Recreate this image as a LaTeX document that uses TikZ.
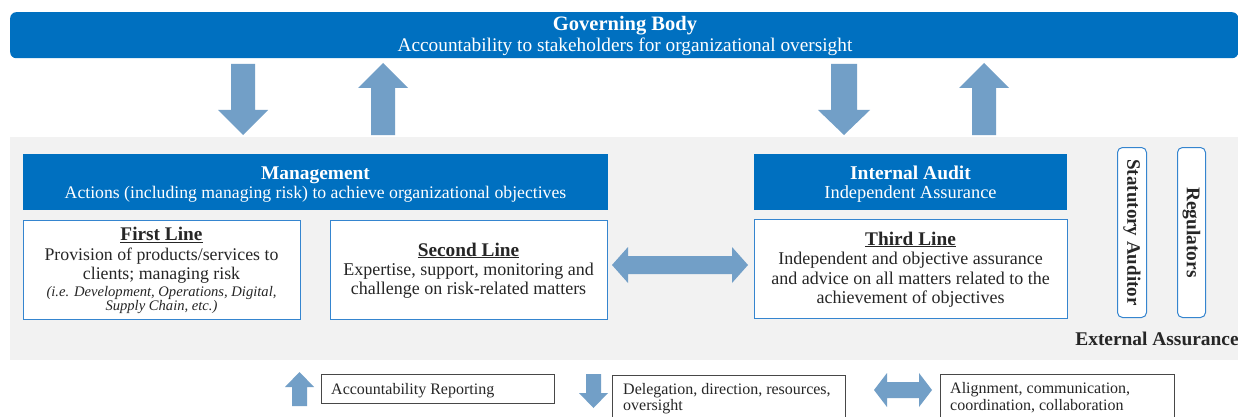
\documentclass[tikz,border=0pt]{standalone}
\usepackage{fontspec}
\setmainfont{Liberation Serif}
\definecolor{corp}{HTML}{0070C0}
\definecolor{flow}{HTML}{729FC7}
\definecolor{panel}{HTML}{F2F2F2}
\definecolor{edge}{HTML}{3585CF}
\definecolor{ink}{HTML}{262626}
\newcommand{\fs}[1]{\fontsize{#1}{#1}\selectfont}
\begin{document}
\begin{tikzpicture}[x=1pt,y=-1pt,
  bar/.style={fill=corp,inner sep=0pt,anchor=north west},
  linebox/.style={draw=edge,line width=1.3pt,fill=white,inner sep=0pt,anchor=north west},
  extbox/.style={draw=edge,line width=1pt,fill=white,rounded corners=5pt,inner sep=0pt,anchor=north west},
  keybox/.style={draw=ink!85,line width=0.9pt,fill=white,inner sep=0pt,anchor=north west},
  lbl/.style={inner sep=0pt,anchor=base,text=ink},
  barlbl/.style={inner sep=0pt,anchor=base,text=white},
  keylbl/.style={inner sep=0pt,anchor=base west,text=ink,font=\fs{16}},
  blockarrow/.style={fill=flow}]
\useasboundingbox (0,0) rectangle (1238,417);
\fill[white] (0,0) rectangle (1238,417);

% governing body banner
\node[bar,rounded corners=6pt,minimum width=1228,minimum height=46] (gov) at (10,12) {};
\node[barlbl,font=\bfseries\fs{20.5}] (govt) at (625,30.7) {Governing Body};
\node[barlbl,font=\fs{19.3}] (govs) at (625,51.5) {Accountability to stakeholders for organizational oversight};

% grey panel holding the organisation
\fill[panel] (10,137) rectangle (1238,360);

% vertical flows between the banner and the organisation
\fill[blockarrow] (231,64) -- (255,64) -- (255,110) -- (268,110) -- (243,135) -- (218,110) -- (231,110) -- cycle;
\fill[blockarrow] (371,135) -- (395,135) -- (395,88) -- (408,88) -- (383,63) -- (358,88) -- (371,88) -- cycle;
\fill[blockarrow] (831,64) -- (857,64) -- (857,110) -- (870,110) -- (844,135) -- (818,110) -- (831,110) -- cycle;
\fill[blockarrow] (972,135) -- (996,135) -- (996,88) -- (1009,88) -- (984,63) -- (959,88) -- (972,88) -- cycle;

% management and internal audit headers
\node[bar,minimum width=585,minimum height=56] (mgmt) at (23,154) {};
\node[barlbl,font=\bfseries\fs{19.4}] (mgmtt) at (315.5,179) {Management};
\node[barlbl,font=\fs{17.7}] (mgmts) at (315.5,198.5) {Actions (including managing risk) to achieve organizational objectives};
\node[bar,minimum width=313,minimum height=56] (ia) at (754,154) {};
\node[barlbl,font=\bfseries\fs{19.5}] (iat) at (910.5,179) {Internal Audit};
\node[barlbl,font=\fs{18.4}] (ias) at (910.5,198.5) {Independent Assurance};

% first line
\node[linebox,minimum width=277,minimum height=99] (first) at (23,220) {};
\node[lbl,font=\bfseries\fs{19.3}] (firstt) at (161.5,240.5) {\underline{First Line}};
\node[lbl,font=\fs{17.8}] (first1) at (161.5,260.5) {Provision of products/services to};
\node[lbl,font=\fs{17.8}] (first2) at (161.5,279) {clients; managing risk};
\node[lbl,font=\itshape\fs{14.6}] (first3) at (161.5,296.5) {(i.e. Development, Operations, Digital,};
\node[lbl,font=\itshape\fs{14.6}] (first4) at (161.5,310.5) {Supply Chain, etc.)};

% second line
\node[linebox,minimum width=277,minimum height=99] (second) at (330,220) {};
\node[lbl,font=\bfseries\fs{19.3}] (secondt) at (468.5,256) {\underline{Second Line}};
\node[lbl,font=\fs{18}] (second1) at (468.5,275.5) {Expertise, support, monitoring and};
\node[lbl,font=\fs{18}] (second2) at (468.5,294.5) {challenge on risk-related matters};

% third line
\node[linebox,minimum width=313,minimum height=99] (third) at (754,219) {};
\node[lbl,font=\bfseries\fs{19.3}] (thirdt) at (910.5,245) {\underline{Third Line}};
\node[lbl,font=\fs{18}] (third1) at (910.5,264.5) {Independent and objective assurance};
\node[lbl,font=\fs{18}] (third2) at (910.5,284) {and advice on all matters related to the};
\node[lbl,font=\fs{18}] (third3) at (910.5,303.5) {achievement of objectives};

% coordination between second and third line
\fill[blockarrow] (612,265) -- (628,247) -- (628,256) -- (732,256) -- (732,247) -- (748,265)
  -- (732,283) -- (732,274) -- (628,274) -- (628,283) -- cycle;

% external assurance providers
\node[extbox,minimum width=29,minimum height=170] (stat) at (1117,147) {};
\node[rotate=-90,inner sep=0pt,text=ink,font=\bfseries\fs{19}] (statlbl) at (stat.center) {Statutory Auditor};
\node[extbox,minimum width=28,minimum height=170] (reg) at (1177,147) {};
\node[rotate=-90,inner sep=0pt,text=ink,font=\bfseries\fs{19.4}] (reglbl) at (reg.center) {Regulators};
\node[lbl,font=\bfseries\fs{19.4}] (ext) at (1157,345) {External Assurance};

% key
\fill[blockarrow] (292,406) -- (307,406) -- (307,387) -- (314,387) -- (299.5,372) -- (285,387) -- (292,387) -- cycle;
\node[keybox,minimum width=233,minimum height=29] (k1) at (321,374) {};
\node[keylbl] (k1t) at (331,394) {Accountability Reporting};

\fill[blockarrow] (586,374) -- (601,374) -- (601,393) -- (608,393) -- (593.5,408) -- (579,393) -- (586,393) -- cycle;
\node[keybox,minimum width=233,minimum height=50] (k2) at (612,375) {};
\node[keylbl] (k2a) at (623,394) {Delegation, direction, resources,};
\node[keylbl] (k2b) at (623,410.5) {oversight};

\fill[blockarrow] (874,390) -- (887,373) -- (887,382) -- (919,382) -- (919,373) -- (932,390)
  -- (919,407) -- (919,398) -- (887,398) -- (887,407) -- cycle;
\node[keybox,minimum width=234,minimum height=50] (k3) at (940,374) {};
\node[keylbl] (k3a) at (950,393) {Alignment, communication,};
\node[keylbl] (k3b) at (950,410) {coordination, collaboration};
\end{tikzpicture}
\end{document}
